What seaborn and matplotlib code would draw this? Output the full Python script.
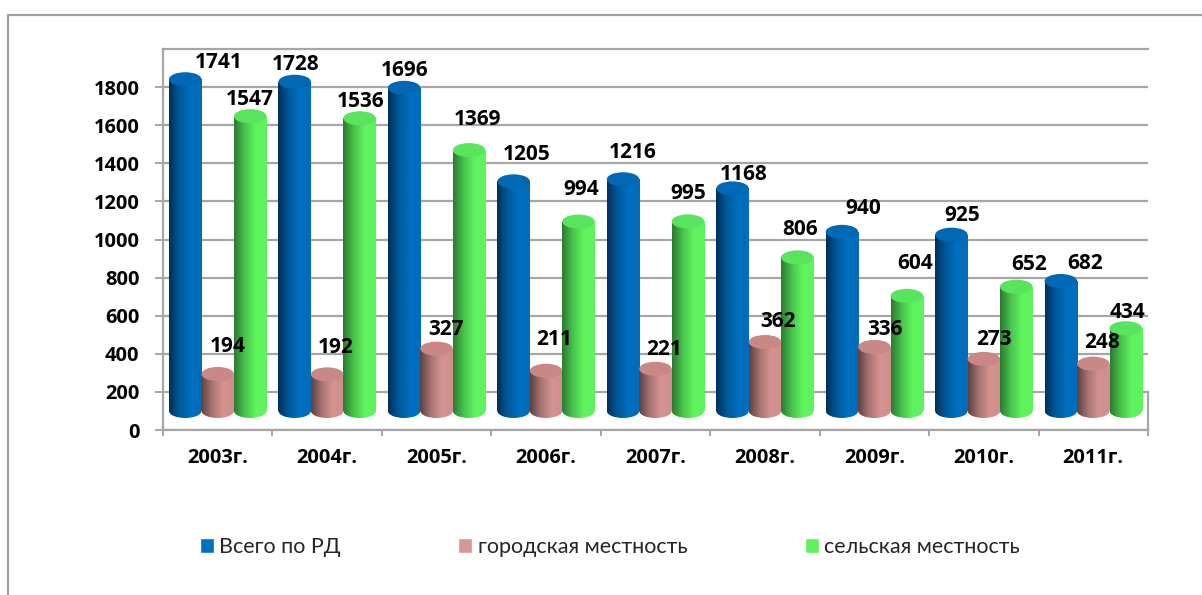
import numpy as np
import matplotlib
matplotlib.use('Agg')
import matplotlib.pyplot as plt
import pandas as pd
import seaborn as sns
from matplotlib.colors import LinearSegmentedColormap
from matplotlib.lines import Line2D
from matplotlib.patches import Ellipse

# Данные
years = ['2003г.', '2004г.', '2005г.', '2006г.', '2007г.', '2008г.', '2009г.', '2010г.', '2011г.']
total = [1741, 1728, 1696, 1205, 1216, 1168, 940, 925, 682]
urban = [194, 192, 327, 211, 221, 362, 336, 273, 248]
rural = [1547, 1536, 1369, 994, 995, 806, 604, 652, 434]
series_names = ['Всего по РД', 'городская местность', 'сельская местность']

# Сдвиг подписей от верха цилиндра, в пикселях
total_nudge = [(33, 17), (1, 17), (0, 17), (13, 27), (10, 27), (11, 14), (21, 23), (11, 19), (24, 18)]
urban_nudge = [(10, 27), (8, 27), (9, 19), (8, 31), (9, 19), (13, 20), (11, 17), (10, 19), (9, 21)]
rural_nudge = [(0, 17), (1, 17), (8, 31), (3, 32), (0, 28), (3, 28), (8, 32), (13, 22), (2, 16)]

colors = ['#0070C0', '#D99694', '#5EF25E']
top_colors = ['#0068B4', '#C98886', '#58E45C']
gradients = [
    ['#00305A', '#005A9C', '#0070C0', '#006CBA'],
    ['#5C4040', '#A87472', '#D49290', '#D08E8C'],
    ['#2C7A30', '#48C44C', '#60F45E', '#5EF25E'],
]
floor = 100  # цилиндры стоят выше нуля оси
cap_h = 74   # высота эллипса в единицах оси

sns.set_theme(style='white')
plt.rcParams['font.family'] = ['Lato', 'Noto Sans']
bold_font = ['Open Sans', 'Noto Sans']

df = pd.DataFrame({'year': years * 3,
                   'series': np.repeat(series_names, len(years)),
                   'value': total + urban + rural})

W, H = 1202, 595
fig = plt.figure(figsize=(W / 100, H / 100), dpi=100)
ax = fig.add_axes([163 / W, (H - 430) / H, 985 / W, 381 / H])

sns.barplot(data=df, x='year', y='value', hue='series', palette=colors,
            width=0.89, gap=0, errorbar=None, saturation=1, ax=ax, zorder=3)

ax.set_xlim(-0.5, 8.5)
ax.set_ylim(0, 2000)
ax.set_xlabel('')
ax.set_ylabel('')

# Сетка и рамка
grid_c = '#A6A6A6'
ax.set_yticks(range(0, 2000, 200))
ax.yaxis.grid(True, color=grid_c, lw=1.6, zorder=0)
ax.set_axisbelow(True)
for s in ['top', 'left', 'bottom', 'right']:
    ax.spines[s].set_color(grid_c)
    ax.spines[s].set_linewidth(1.6)
ax.spines['right'].set_bounds(0, 200)

ax.set_xticks(np.arange(-0.5, 9), minor=True)
ax.tick_params(axis='x', which='minor', length=4.5, width=1.4, color=grid_c, bottom=True)
ax.tick_params(axis='x', which='major', length=0, pad=13, labelsize=14.4)
ax.tick_params(axis='y', length=6, width=1.4, color=grid_c, left=True, pad=11, labelsize=14.4)
for lab in ax.get_xticklabels() + ax.get_yticklabels():
    lab.set_fontweight('bold')
    lab.set_family(bold_font)
    lab.set_color('black')

# Цилиндры: градиент поверх столбцов seaborn
ramp = np.linspace(0, 1, 128).reshape(1, -1)
for k, (cont, grad) in enumerate(zip(ax.containers, gradients)):
    cmap = LinearSegmentedColormap.from_list('c%d' % k, grad)
    for bar in cont:
        x0, w, v = bar.get_x(), bar.get_width(), bar.get_height()
        bar.set_y(floor)
        bar.set_edgecolor('none')
        top = floor + v
        cx = x0 + w / 2
        bottom_cap = Ellipse((cx, floor), w, cap_h, transform=ax.transData, fc='none', ec='none', zorder=3)
        ax.add_patch(bottom_cap)
        for clip, y0, y1 in [(bottom_cap, floor - cap_h / 2, floor), (bar, floor, top)]:
            im = ax.imshow(ramp, cmap=cmap, extent=[x0, x0 + w, y0, y1], aspect='auto',
                           interpolation='bilinear', zorder=3.1)
            im.set_clip_path(clip)
        ax.add_patch(Ellipse((cx, top), w, cap_h, fc=top_colors[k], ec='none', zorder=3.2))

ax.set_xlim(-0.5, 8.5)
ax.set_ylim(0, 2000)

# Подписи значений
for cont, vals, nudges in zip(ax.containers, [total, urban, rural], [total_nudge, urban_nudge, rural_nudge]):
    for bar, v, (dx, dy) in zip(cont, vals, nudges):
        ax.annotate(str(v), (bar.get_x() + bar.get_width() / 2, floor + v),
                    xytext=(dx * 0.72, dy * 0.72), textcoords='offset points',
                    ha='center', va='center', fontsize=15, fontweight='bold',
                    family=bold_font, color='black', zorder=5)

# Легенда
sns.move_legend(ax, 'lower left', bbox_to_anchor=(200 / W, (H - 557) / H),
                bbox_transform=fig.transFigure, ncol=3, title=None, frameon=False,
                fontsize=15.5, handlelength=0.65, handleheight=0.65, handletextpad=0.25,
                columnspacing=5.45, borderpad=0, borderaxespad=0)

# Внешняя рамка, обрезанная снимком
border = '#A0A0A0'
fig.add_artist(Line2D([7.5 / W, 7.5 / W, 1], [0, (H - 15) / H, (H - 15) / H], color=border, lw=1.6))

plt.savefig('out.png', dpi=100)
